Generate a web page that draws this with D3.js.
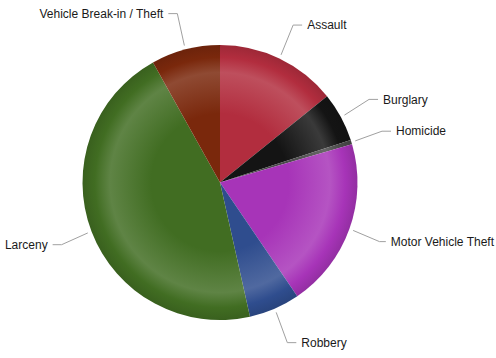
<!DOCTYPE html>
<html>
<head>
<meta charset="utf-8">
<script src="https://cdn.jsdelivr.net/npm/d3@7/dist/d3.min.js"></script>
<style>
  html, body { margin: 0; padding: 0; background: #fff; }
  svg { display: block; }
</style>
</head>
<body>
<svg id="chart" width="496" height="358"></svg>
<script>
// Incident counts by crime category, clockwise from 12 o'clock
const categories = ["Assault", "Burglary", "Homicide", "Motor Vehicle Theft", "Robbery", "Larceny", "Vehicle Break-in / Theft"];
const counts = [142, 58, 5, 200, 60, 454, 81];
const colors = ["#b22d3e", "#141414", "#4a4a4a", "#a734b8", "#2f4d8e", "#416d22", "#7a280c"];

const width = 496, height = 358;
const cx = 220, cy = 182.5, radius = 137.5;

const svg = d3.select("#chart");
const defs = svg.append("defs");

// Radial shading: flat centre, soft light ring near the rim, darker edge
colors.forEach((c, i) => {
  const light = d3.interpolateRgb(c, "#ffffff")(0.16);
  const dark = d3.color(c).darker(0.35).formatHex();
  const g = defs.append("radialGradient")
    .attr("id", "shade" + i)
    .attr("gradientUnits", "userSpaceOnUse")
    .attr("cx", 0).attr("cy", 0).attr("r", radius);
  g.append("stop").attr("offset", "0").attr("stop-color", c);
  g.append("stop").attr("offset", "0.5").attr("stop-color", c);
  g.append("stop").attr("offset", "0.8").attr("stop-color", light);
  g.append("stop").attr("offset", "0.91").attr("stop-color", c);
  g.append("stop").attr("offset", "1").attr("stop-color", dark);
});

const data = categories.map((name, i) => ({ name, value: counts[i], idx: i }));

const pie = d3.pie().sort(null).value(d => d.value);
const arcs = pie(data);
const arc = d3.arc().innerRadius(0).outerRadius(radius);

const g = svg.append("g").attr("transform", `translate(${cx},${cy})`);

g.selectAll("path.slice")
  .data(arcs)
  .join("path")
  .attr("class", "slice")
  .attr("d", arc)
  .attr("fill", d => `url(#shade${d.data.idx})`);

const labels = g.append("g");
arcs.forEach(d => {
  const mid = (d.startAngle + d.endAngle) / 2;
  const s = Math.sin(mid), c = Math.cos(mid);
  const side = s >= 0 ? 1 : -1;
  const p0 = [(radius + 4) * s, -(radius + 4) * c];
  const elbow = [(radius + 32) * s, -(radius + 37) * c];
  let end = [elbow[0] + side * 9, elbow[1]];

  const text = labels.append("text")
    .attr("y", end[1])
    .attr("dy", "0.35em")
    .attr("text-anchor", side > 0 ? "start" : "end")
    .attr("font-family", "Liberation Sans, Arial, sans-serif")
    .attr("font-size", 12)
    .attr("fill", "#1a1a1a")
    .text(d.data.name);

  // keep right-hand labels inside the canvas
  const w = text.node().getComputedTextLength();
  if (side > 0 && cx + end[0] + 5 + w > width - 2) {
    end[0] = Math.max(elbow[0] + 3, width - 2 - cx - w - 5);
  }
  text.attr("x", end[0] + side * 5);

  labels.insert("path", "text")
    .attr("d", d3.line()([p0, elbow, end]))
    .attr("fill", "none")
    .attr("stroke", "#a0a0a0")
    .attr("stroke-width", 1);
});
</script>
</body>
</html>
